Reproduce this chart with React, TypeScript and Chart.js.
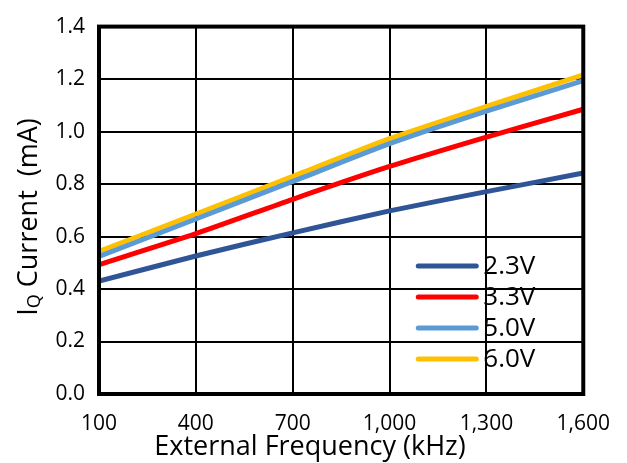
import React, { useEffect, useRef } from "react";
import { Chart, registerables } from "chart.js";

Chart.register(...registerables);

const frequencies = [100, 400, 700, 1000, 1300, 1600];
const v23 = [0.43, 0.526, 0.614, 0.698, 0.771, 0.842];
const v33 = [0.493, 0.611, 0.742, 0.867, 0.979, 1.085];
const v50 = [0.524, 0.667, 0.81, 0.954, 1.078, 1.194];
const v60 = [0.543, 0.686, 0.829, 0.973, 1.096, 1.216];
const seriesLabels = ["2.3V", "3.3V", "5.0V", "6.0V"];
const seriesColors = ["#2F5597", "#FF0000", "#5B9BD5", "#FFC000"];
const xTicks = [100, 400, 700, 1000, 1300, 1600];
const yTicks = [0, 0.2, 0.4, 0.6, 0.8, 1.0, 1.2, 1.4];
const xTitle = "External Frequency (kHz)";

const FONT = "'Open Sans', 'Noto Sans', sans-serif";

const borderPlugin = {
  id: "plotBorder",
  afterDatasetsDraw(chart: any) {
    const { ctx, chartArea } = chart;
    ctx.save();
    ctx.strokeStyle = "#000";
    ctx.lineWidth = 4;
    ctx.strokeRect(chartArea.left, chartArea.top, chartArea.right - chartArea.left, chartArea.bottom - chartArea.top);
    ctx.restore();
  },
};

const legendPlugin = {
  id: "insideLegend",
  afterDraw(chart: any) {
    const { ctx, chartArea } = chart;
    ctx.save();
    const x0 = chartArea.right - 165;
    const x1 = chartArea.right - 107;
    const tx = chartArea.right - 100;
    const y0 = chartArea.bottom - 128;
    chart.data.datasets.forEach((ds: any, i: number) => {
      const y = y0 + i * 31;
      ctx.strokeStyle = ds.borderColor;
      ctx.lineWidth = 5;
      ctx.lineCap = "round";
      ctx.beginPath();
      ctx.moveTo(x0, y);
      ctx.lineTo(x1, y);
      ctx.stroke();
      ctx.fillStyle = "#000";
      ctx.font = `26px ${FONT}`;
      ctx.textBaseline = "middle";
      ctx.textAlign = "left";
      ctx.fillText(ds.label, tx, y + 1);
    });
    ctx.restore();
  },
};

const titlesPlugin = {
  id: "axisTitles",
  afterDraw(chart: any) {
    const { ctx } = chart;
    // x title
    ctx.save();
    ctx.fillStyle = "#000";
    ctx.font = `27px ${FONT}`;
    ctx.textAlign = "center";
    ctx.textBaseline = "middle";
    ctx.fillText(xTitle, 310, 447);
    ctx.restore();
    // y title with subscript Q
    ctx.save();
    ctx.translate(37, 217);
    ctx.rotate(-Math.PI / 2);
    ctx.fillStyle = "#000";
    ctx.textBaseline = "alphabetic";
    ctx.textAlign = "left";
    const big = `27px ${FONT}`;
    const small = `18px ${FONT}`;
    ctx.font = big;
    const wI = ctx.measureText("I").width;
    const rest = " Current  (mA)";
    const wR = ctx.measureText(rest).width;
    ctx.font = small;
    const wQ = ctx.measureText("Q").width;
    const total = wI + wQ + wR;
    let x = -total / 2;
    ctx.font = big;
    ctx.fillText("I", x, 0);
    x += wI;
    ctx.font = small;
    ctx.fillText("Q", x, 3);
    x += wQ;
    ctx.font = big;
    ctx.fillText(rest, x, 0);
    ctx.restore();
  },
};

export default function App() {
  const ref = useRef<HTMLCanvasElement | null>(null);
  useEffect(() => {
    if (!ref.current) return;
    const all = [v23, v33, v50, v60];
    const chart = new Chart(ref.current, {
      type: "line",
      data: {
        datasets: all.map((vals, i) => ({
          label: seriesLabels[i],
          data: frequencies.map((f, j) => ({ x: f, y: vals[j] })),
          borderColor: seriesColors[i],
          backgroundColor: seriesColors[i],
          borderWidth: 5,
          pointRadius: 0,
          tension: 0.2,
          fill: false,
        })),
      },
      options: {
        animation: false,
        responsive: true,
        maintainAspectRatio: false,
        layout: { padding: { top: 18, right: 42, left: 0, bottom: 0 } },
        plugins: { legend: { display: false }, tooltip: { enabled: false } },
        scales: {
          x: {
            type: "linear",
            min: xTicks[0],
            max: xTicks[xTicks.length - 1],
            afterBuildTicks: (s: any) => {
              s.ticks = xTicks.map((v) => ({ value: v }));
            },
            afterFit: (s: any) => {
              s.height = 69;
            },
            ticks: {
              color: "#000",
              font: { family: FONT, size: 21 },
              padding: 17,
              maxRotation: 0,
              callback: (v: any) => Number(v).toLocaleString("en-US"),
            },
            grid: { color: "#000", lineWidth: 2, drawTicks: false },
            border: { display: false },
          },
          y: {
            min: yTicks[0],
            max: yTicks[yTicks.length - 1],
            afterBuildTicks: (s: any) => {
              s.ticks = yTicks.map((v) => ({ value: v }));
            },
            afterFit: (s: any) => {
              s.width = 99;
            },
            ticks: {
              color: "#000",
              font: { family: FONT, size: 21 },
              padding: 14,
              callback: (v: any) => Number(v).toFixed(1),
            },
            grid: { color: "#000", lineWidth: 2, drawTicks: false },
            border: { display: false },
          },
        },
      },
      plugins: [borderPlugin, legendPlugin, titlesPlugin],
    } as any);
    return () => chart.destroy();
  }, []);
  return (
    <div style={{ position: "fixed", left: 0, top: 0, width: 627, height: 463, background: "#fff" }}>
      <canvas ref={ref} />
    </div>
  );
}
